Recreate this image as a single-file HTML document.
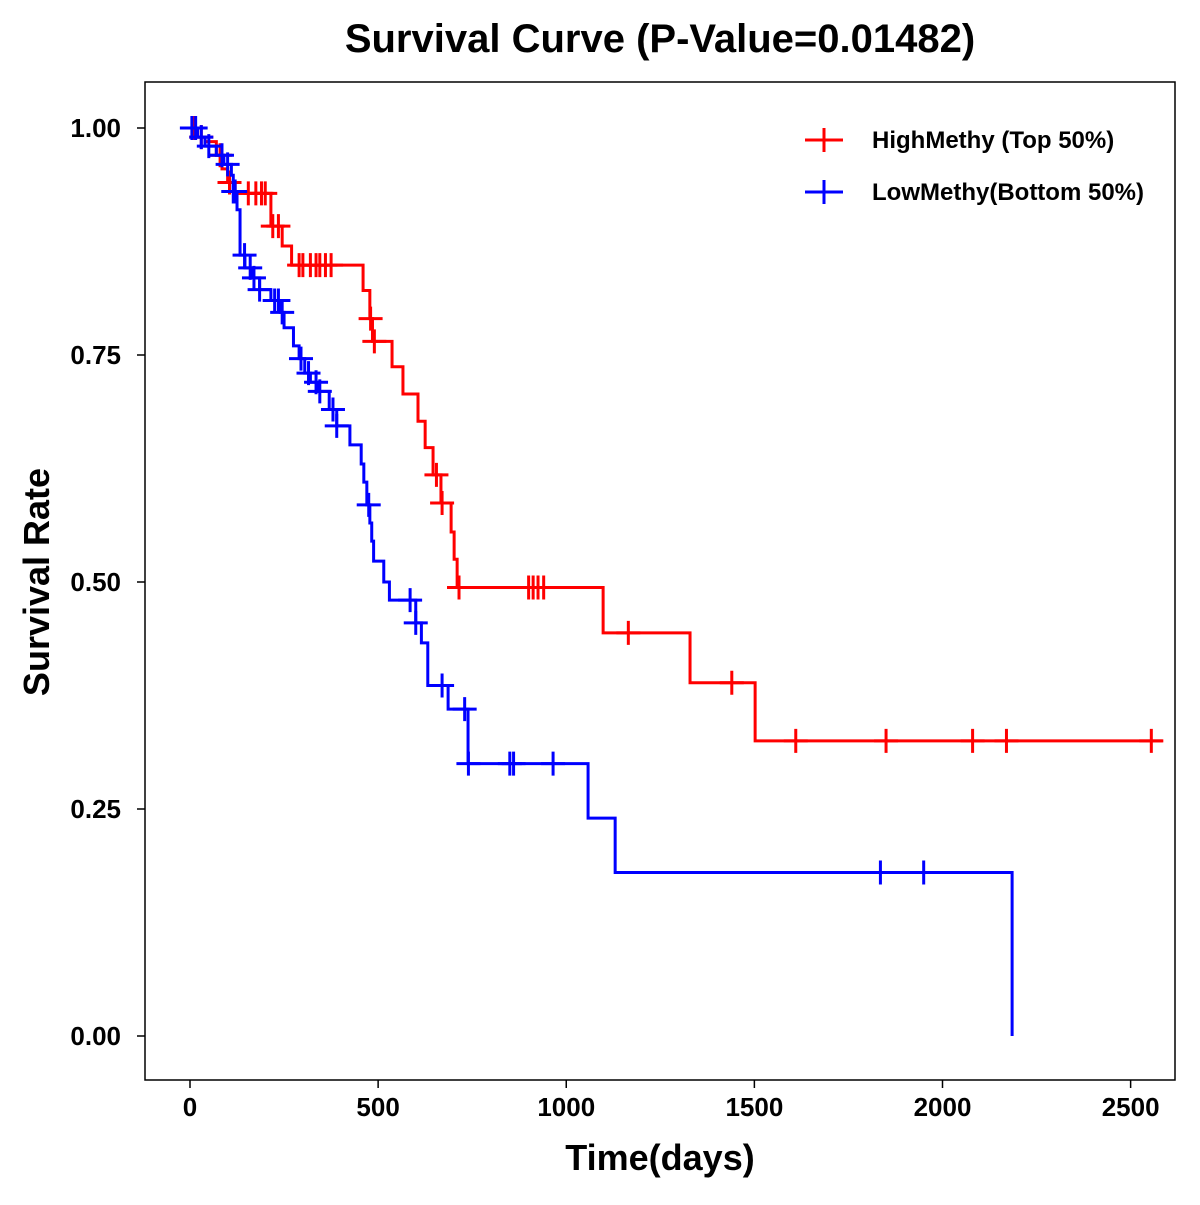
<!DOCTYPE html>
<html><head><meta charset="utf-8"><style>
body{margin:0;background:#fff}
svg text{font-family:"Liberation Sans",Arial,sans-serif;font-weight:bold}
</style></head><body>
<svg id="c" width="1200" height="1200">
<rect x="0" y="0" width="1200" height="1200" fill="#fff"/>
<text x="660" y="52" font-size="40" text-anchor="middle">Survival Curve (P-Value=0.01482)</text>
<rect x="145" y="82" width="1030" height="998" fill="none" stroke="#000" stroke-width="1.5"/>
<text x="660" y="1170" font-size="36" text-anchor="middle">Time(days)</text>
<text transform="translate(49,582) rotate(-90)" font-size="36" text-anchor="middle">Survival Rate</text>
<g id="axes"></g>
<g id="series"></g>
<g>
<g><line x1="805" y1="140" x2="843" y2="140" stroke="#f00" stroke-width="3"/><line x1="824" y1="128" x2="824" y2="152" stroke="#f00" stroke-width="3"/><text x="872" y="148" font-size="24">HighMethy (Top 50%)</text></g>
<g><line x1="805" y1="192" x2="843" y2="192" stroke="#00f" stroke-width="3"/><line x1="824" y1="180" x2="824" y2="204" stroke="#00f" stroke-width="3"/><text x="872" y="200" font-size="24">LowMethy(Bottom 50%)</text></g>
</g>
</svg>
<script>
const xTicks=[0,500,1000,1500,2000,2500];
const yTicks=[0,0.25,0.5,0.75,1.0];
const highTimes=[0,15,40,70,85,100,120,215,245,270,460,478,485,537,566,606,625,646,667,694,702,710,1098,1329,1502,2585];
const highSurv=[1.0,0.99,0.985,0.97,0.955,0.94,0.928,0.892,0.870,0.849,0.821,0.79,0.765,0.737,0.707,0.677,0.648,0.618,0.587,0.555,0.525,0.494,0.444,0.389,0.325,0.325];
const highCens=[10,30,80,105,155,175,190,200,220,235,290,300,320,335,345,360,375,480,490,655,670,715,900,912,925,940,1165,1440,1610,1850,2080,2170,2555];
const lowTimes=[0,20,40,70,90,110,115,125,133,146,165,185,215,240,250,275,290,305,320,340,370,390,425,455,462,470,478,483,488,515,530,600,615,632,686,739,1058,1130,2185];
const lowSurv=[1.0,0.99,0.98,0.97,0.96,0.948,0.93,0.91,0.86,0.846,0.835,0.822,0.81,0.797,0.78,0.76,0.746,0.73,0.72,0.71,0.69,0.672,0.651,0.63,0.61,0.585,0.565,0.545,0.523,0.50,0.48,0.455,0.433,0.386,0.36,0.30,0.24,0.18,0.0];
const lowCens=[5,15,30,50,85,100,115,120,145,160,170,185,225,235,245,295,315,335,345,380,390,475,585,600,670,730,740,850,860,965,1835,1950];
const NS='http://www.w3.org/2000/svg';
const X=d=>190+d*0.37625, Y=s=>1036-s*908;
function mk(t,a,p){const e=document.createElementNS(NS,t);for(const k in a)e.setAttribute(k,a[k]);p.appendChild(e);return e;}
const ax=document.getElementById('axes');
xTicks.forEach(v=>{const l=mk('line',{x1:X(v),x2:X(v),y1:1080,y2:1088,stroke:'#000','stroke-width':1.5},ax);


const t=mk('text',{x:X(v),y:1116,'font-size':26,'text-anchor':'middle'},ax);t.textContent=v;

});
yTicks.forEach(v=>{const l=mk('line',{x1:137,x2:145,y1:Y(v),y2:Y(v),stroke:'#000','stroke-width':1.5},ax);


const t=mk('text',{x:121,y:Y(v)+9,'font-size':26,'text-anchor':'end'},ax);t.textContent=v.toFixed(2);

});
function survAt(times,surv,d){let s=surv[0];for(let i=0;i<times.length;i++){if(times[i]<=d)s=surv[i];}return s;}
const sg=document.getElementById('series');
function draw(times,surv,cens,col,name){
let d='M'+X(times[0])+','+Y(surv[0]);
for(let i=1;i<times.length;i++){d+=' H'+X(times[i])+' V'+Y(surv[i]);}
const p=mk('path',{d:d,fill:'none',stroke:col,'stroke-width':3},sg);


cens.forEach(c=>{const s=survAt(times,surv,c);const x=X(c),y=Y(s);
const g=mk('path',{d:`M${x-12},${y} H${x+12} M${x},${y-12} V${y+12}`,stroke:col,'stroke-width':3},sg);

});
}
draw(highTimes,highSurv,highCens,'#f00','high-methy');
draw(lowTimes,lowSurv,lowCens,'#00f','low-methy');
</script>
</body></html>
